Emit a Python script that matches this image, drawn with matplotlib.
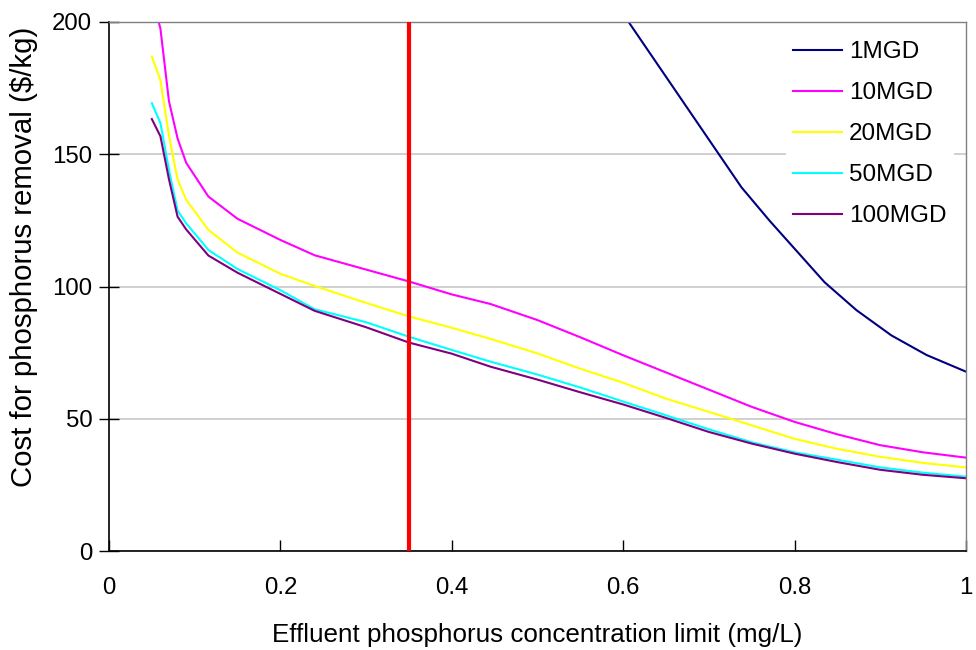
import matplotlib
matplotlib.use("Agg")
import matplotlib.pyplot as plt

plt.rcParams['font.family'] = ['Liberation Sans', 'DejaVu Sans']

# Effluent phosphorus limit (mg/L) shared by the 10-100 MGD curves
limit = [0.05, 0.06, 0.07, 0.08, 0.09, 0.116, 0.15, 0.2, 0.24, 0.3, 0.35,
         0.4, 0.445, 0.5, 0.55, 0.6, 0.65, 0.7, 0.75, 0.8, 0.85, 0.9, 0.95, 1.0]

cost_10mgd = [210, 197.5, 170, 156, 146.8, 134, 125.6, 117.6, 111.8, 106.4, 101.9,
              97.0, 93.4, 87.3, 80.8, 74.0, 67.5, 61.0, 54.5, 48.8, 44.1, 40.0, 37.3, 35.3]
cost_20mgd = [186.9, 178, 157, 140.5, 132.8, 121.4, 112.8, 104.8, 100.2, 93.8, 88.7,
              84.4, 80.2, 74.7, 68.9, 63.6, 57.6, 52.6, 47.5, 42.4, 38.6, 35.6, 33.3, 31.6]
cost_50mgd = [169.3, 161.8, 144, 128.7, 123.9, 113.8, 106.6, 98.6, 91.4, 86.5, 81.0,
              76.0, 71.6, 66.7, 61.8, 56.5, 51.3, 46.0, 41.1, 37.3, 34.5, 31.6, 29.6, 28.1]
cost_100mgd = [163.3, 156.8, 140.5, 126.4, 121.6, 111.7, 105.2, 97.2, 90.8, 84.6, 78.8,
               74.6, 69.7, 64.8, 60.0, 55.4, 50.3, 45.0, 40.6, 36.8, 33.6, 30.7, 28.8, 27.5]

# 1 MGD curve has its own limit points
limit_1mgd = [0.6, 0.738, 0.771, 0.835, 0.872, 0.913, 0.954, 1.0]
cost_1mgd = [203, 137.5, 124.8, 101.6, 91.1, 81.5, 74.1, 67.8]

regulatory_limit = 0.35

series_labels = ['1MGD', '10MGD', '20MGD', '50MGD', '100MGD']
series_colors = ['#000080', '#FF00FF', '#FFFF00', '#00FFFF', '#800080']

fig = plt.figure(figsize=(9.76, 6.5), dpi=100)
ax = fig.add_axes([109 / 976, 1 - 551 / 650, 857 / 976, 529 / 650])

ax.plot(limit_1mgd, cost_1mgd, color=series_colors[0], lw=1.5, label=series_labels[0])
for ys, lab, col in zip([cost_10mgd, cost_20mgd, cost_50mgd, cost_100mgd],
                        series_labels[1:], series_colors[1:]):
    ax.plot(limit, ys, color=col, lw=1.5, label=lab)

ax.axvline(regulatory_limit, color='#FF0000', lw=3, zorder=5)

ax.set_xlim(0, 1)
ax.set_ylim(0, 200)
ax.set_xticks([0, 0.2, 0.4, 0.6, 0.8, 1.0])
ax.set_xticklabels(['0', '0.2', '0.4', '0.6', '0.8', '1'])
ax.set_yticks([0, 50, 100, 150, 200])

ax.yaxis.grid(True, color='#c8c8c8', lw=1.2)
ax.set_axisbelow(True)

for side in ['top', 'right']:
    ax.spines[side].set_color('#808080')
    ax.spines[side].set_linewidth(1.0)
for side in ['left', 'bottom']:
    ax.spines[side].set_color('black')
    ax.spines[side].set_linewidth(1.2)

ax.tick_params(axis='y', direction='inout', length=14, width=1.0, labelsize=17.3, pad=5)
ax.tick_params(axis='x', direction='in', length=8, width=1.0, labelsize=17.3, pad=19)

ax.set_xlabel('Effluent phosphorus concentration limit (mg/L)', fontsize=18.7, labelpad=17)
ax.set_ylabel('Cost for phosphorus removal (\\$/kg)', fontsize=21.2)
ax.yaxis.set_label_coords(-0.083, 0.557)

leg = ax.legend(loc='upper left', bbox_to_anchor=(0.7895, 0.977), fontsize=17.5,
                frameon=True, facecolor='white', edgecolor='none', framealpha=1,
                handlelength=2.0, handletextpad=0.3, labelspacing=0.78,
                borderpad=0.3, borderaxespad=0)
for line in leg.get_lines():
    line.set_linewidth(1.5)

fig.savefig('out.png', dpi=100)
